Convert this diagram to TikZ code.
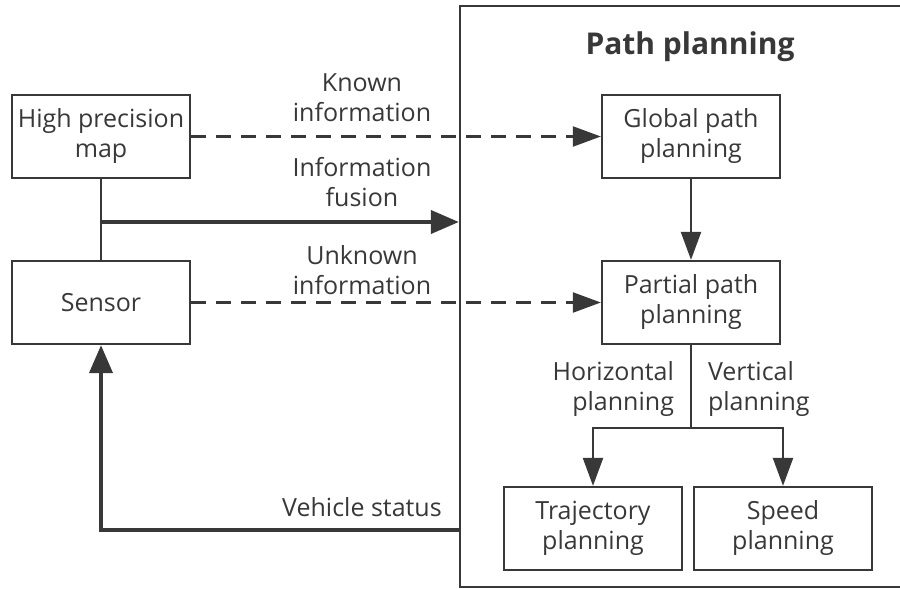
\documentclass[tikz,border=0pt]{standalone}
\usepackage{fontspec}
\setmainfont{Open Sans}
\usetikzlibrary{positioning,arrows.meta}
\definecolor{ink}{HTML}{383838}

\begin{document}
\begin{tikzpicture}[x=0.5pt,y=-0.5pt,
    box/.style={draw=ink, line width=1.15pt, minimum width=89pt, minimum height=41.5pt,
      inner sep=0pt, align=center, text=ink, font=\fontsize{12.5}{15}\selectfont},
    lbl/.style={align=center, text=ink, font=\fontsize{12.5}{15}\selectfont},
    thin/.style={draw=ink, line width=1.15pt},
    flow/.style={thin, -{Triangle[length=14pt,width=10pt]}},
    dashflow/.style={flow, dash pattern=on 7.5pt off 5pt},
    boldflow/.style={draw=ink, line width=2pt, -{Triangle[length=14pt,width=11.5pt]}}]
    \clip (0,0) rectangle (900,589);

    % path planning frame
    \node[draw=ink, line width=1.15pt, minimum width=225pt, minimum height=290.5pt] (pp) at (685,296.5) {};
    \node[text=ink, font=\fontsize{15}{18}\selectfont\bfseries] (pptitle) at (690,47) {Path planning};

    \node[box] (map) at (101,136.5) {High precision\\map};
    \node[box] (sensor) at (101,302.5) {Sensor};
    \node[box] (global) at (691,136.5) {Global path\\planning};
    \node[box] (partial) at (691,302.5) {Partial path\\planning};
    \node[box] (traj) at (593,528.5) {Trajectory\\planning};
    \node[box] (speed) at (783,528.5) {Speed\\planning};

    \coordinate (fuse) at (101,222);
    \coordinate (split) at (691,428);
    \coordinate (back) at (101,530);

    \draw[dashflow] (map) -- (global);
    \draw[dashflow] (sensor) -- (partial);
    \draw[thin] (map) -- (sensor);
    \draw[boldflow] (fuse) -- (fuse -| pp.west);
    \draw[flow] (global) -- (partial);
    \draw[thin] (partial) -- (split);
    \draw[flow] (split) -| (traj);
    \draw[flow] (split) -| (speed);
    \draw[boldflow] (back -| pp.west) -- (back) -- (sensor);

    \node[lbl] (known) at (362,98) {Known\\information};
    \node[lbl] (fusion) at (362,182.5) {Information\\fusion};
    \node[lbl] (unknown) at (362,270.5) {Unknown\\information};
    \node[lbl, align=right, anchor=east] (hor) at (681,389.5) {Horizontal\\planning};
    \node[lbl, align=left, anchor=west] (ver) at (701,389.5) {Vertical\\planning};
    \node[lbl] (status) at (362,507) {Vehicle status};
\end{tikzpicture}
\end{document}
